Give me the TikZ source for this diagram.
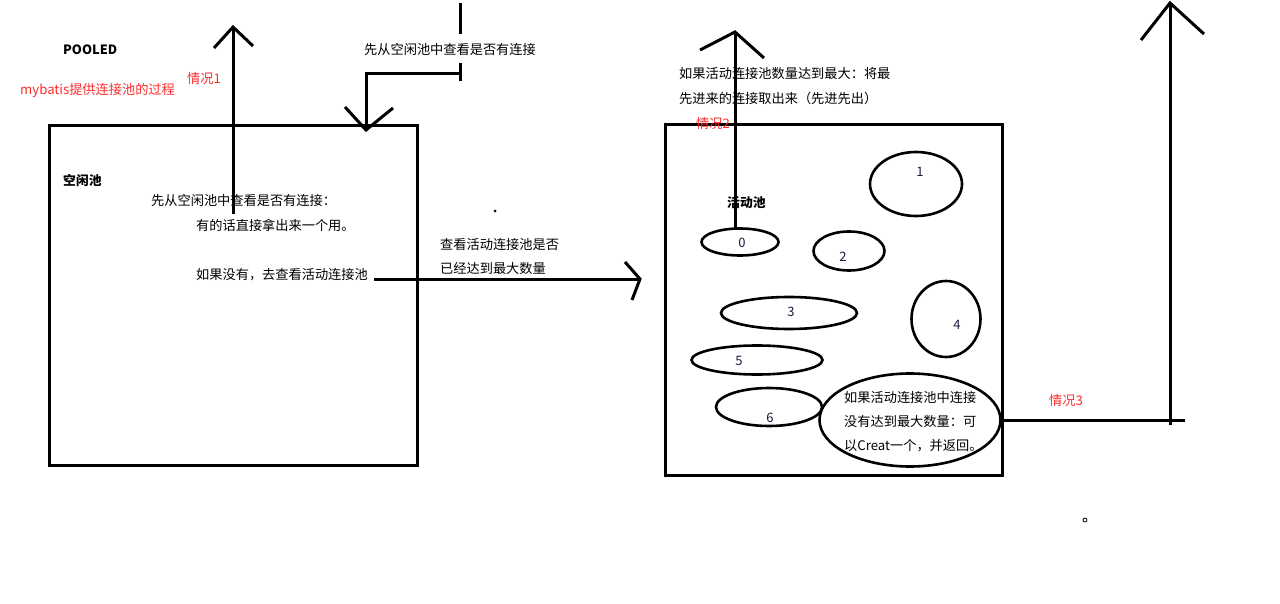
\documentclass[tikz,border=0pt]{standalone}
\usepackage{fontspec}
\setmainfont{Noto Sans CJK SC}
\usetikzlibrary{shapes.geometric}
\definecolor{hand}{RGB}{255,45,45}
\definecolor{num}{RGB}{25,25,60}
\begin{document}
\begin{tikzpicture}[x=1pt,y=-1pt,
  txt/.style={anchor=west,inner sep=0pt,font=\fontsize{13.2}{15}\selectfont},
  rtxt/.style={txt,text=hand},
  btxt/.style={txt,font=\fontsize{12.8}{15}\selectfont\bfseries},
  ntxt/.style={inner sep=0pt,text=num,font=\fontsize{13}{15}\selectfont},
  stroke/.style={line width=3pt},
  pool/.style={draw,line width=3pt,rectangle,inner sep=0pt,outer sep=0pt},
  conn/.style={draw,line width=2.6pt,ellipse,inner sep=0pt,outer sep=0pt}]
\useasboundingbox[fill=white] (0,0) rectangle (1280,604);

% titles
\node[btxt] (pooled) at (63,50) {POOLED};
\node[rtxt] (sub) at (20,90) {mybatis提供连接池的过程};
\node[rtxt] (c1) at (187,78) {情况1};

% idle pool
\node[pool,minimum width=368pt,minimum height=339pt] (idle) at (233,295.5) {};
\node[btxt] (idlename) at (63,181) {空闲池};
\node[txt] (i1) at (151,200) {先从空闲池中查看是否有连接：};
\node[txt] (i2) at (196,225) {有的话直接拿出来一个用。};
\node[txt] (i3) at (196,275) {如果没有，去查看活动连接池};
\node[txt] (top) at (364,49) {先从空闲池中查看是否有连接};
\node[txt] (q1) at (440,244) {查看活动连接池是否};
\node[txt] (q2) at (440,268) {已经达到最大数量};
\node[circle,fill=black,inner sep=0pt,minimum size=3pt] (dot1) at (495,211) {};

% active pool
\node[pool,minimum width=337pt,minimum height=350pt] (active) at (833.5,300) {};
\node[btxt] (activename) at (727,203) {活动池};
\node[txt] (m1) at (679,73) {如果活动连接池数量达到最大：将最};
\node[txt] (m2) at (679,98) {先进来的连接取出来（先进先出）};
\node[rtxt] (c2) at (696,123) {情况2};

\node[conn,minimum width=92pt,minimum height=64pt] (e1) at (916,184) {};
\node[ntxt] (l1) at (920,172) {1};
\node[conn,minimum width=77pt,minimum height=27pt] (e0) at (740,242) {};
\node[ntxt] (l0) at (742,243) {0};
\node[conn,minimum width=71pt,minimum height=39pt] (e2) at (849,251) {};
\node[ntxt] (l2) at (843,257) {2};
\node[conn,minimum width=136pt,minimum height=32pt] (e3) at (789,313) {};
\node[ntxt] (l3) at (791,312) {3};
\node[conn,minimum width=69pt,minimum height=76pt] (e4) at (946,319) {};
\node[ntxt] (l4) at (957,325) {4};
\node[conn,minimum width=131pt,minimum height=29pt] (e5) at (757,360) {};
\node[ntxt] (l5) at (739,361) {5};
\node[conn,minimum width=106pt,minimum height=38pt] (e6) at (769,407) {};
\node[ntxt] (l6) at (770,418) {6};
\node[conn,minimum width=181pt,minimum height=93pt] (enew) at (910,420) {};
\node[txt] (n1) at (844,397) {如果活动连接池中连接};
\node[txt] (n2) at (844,421) {没有达到最大数量：可};
\node[txt] (n3) at (844,446) {以Creat一个，并返回。};
\node[rtxt] (c3) at (1049,400) {情况3};
\node[draw,circle,line width=0.8pt,inner sep=0pt,minimum size=4pt] (dot2) at (1085,520) {};

% connectors
\coordinate (a1s) at (233,214);
\coordinate (a1t) at (233,27);
\draw[stroke] (a1s) -- (a1t);
\draw[stroke] ([shift={(-19,21)}]a1t) -- (a1t) -- ([shift={(20,19)}]a1t);

\coordinate (b1) at (460,3);
\coordinate (b2) at (460,34);
\coordinate (b3) at (460,63);
\coordinate (b4) at (460,81);
\coordinate (b5) at (460,74);
\coordinate (b6) at (366,74);
\coordinate (b7) at (366,130);
\draw[stroke] (b1) -- (b2);
\draw[stroke] (b3) -- (b4);
\draw[stroke] (b5) -- (b6) -- (b7);
\draw[stroke] ([shift={(-21,-23)}]b7) -- (b7) -- ([shift={(27,-22)}]b7);

\coordinate (h1) at (374,279);
\coordinate (h2) at (640,279);
\draw[stroke] (h1) -- (h2);
\draw[stroke] ([shift={(-15,-17)}]h2) -- (h2) -- ([shift={(-8,21)}]h2);

\coordinate (v2s) at (735,230);
\coordinate (v2t) at (735,32);
\draw[stroke] (v2s) -- (v2t);
\draw[stroke] ([shift={(-35,18)}]v2t) -- (v2t) -- ([shift={(29,26)}]v2t);

\coordinate (r1) at (1185,420);
\coordinate (r2) at (1170,425);
\coordinate (r3) at (1170,3);
\draw[stroke] (enew.east) -- (r1);
\draw[stroke] (r2) -- (r3);
\draw[stroke] ([shift={(-29,37)}]r3) -- (r3) -- ([shift={(34,31)}]r3);
\end{tikzpicture}
\end{document}
